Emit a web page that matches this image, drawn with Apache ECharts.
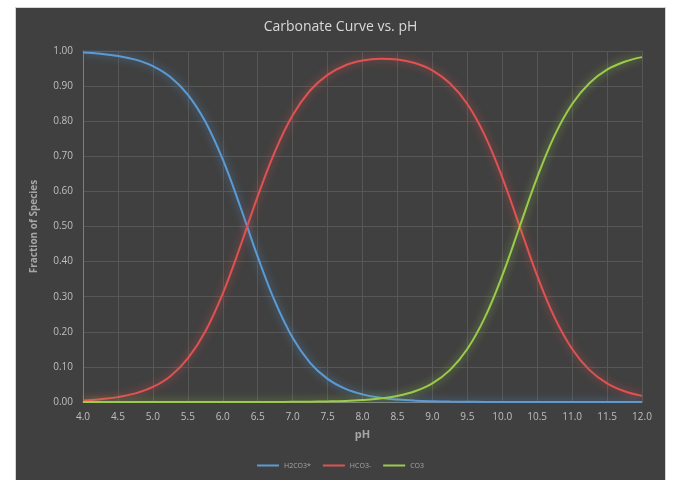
<!DOCTYPE html>
<html>
<head>
<meta charset="utf-8">
<script src="https://cdn.jsdelivr.net/npm/echarts@6/dist/echarts.min.js"></script>
<style>
html,body{margin:0;padding:0;background:#ffffff;width:683px;height:480px;overflow:hidden;}
#wrap{position:absolute;left:15px;top:7px;width:651px;height:473px;background:#404040;border:1px solid #d4d4d4;border-bottom:none;box-sizing:border-box;}
#chart{width:100%;height:100%;}
</style>
</head>
<body>
<div id="wrap"><div id="chart"></div></div>
<script>
const pH = [4.0,4.25,4.5,4.75,5.0,5.25,5.5,5.75,6.0,6.25,6.5,6.75,7.0,7.25,7.5,7.75,8.0,8.25,8.5,8.75,9.0,9.25,9.5,9.75,10.0,10.25,10.5,10.75,11.0,11.25,11.5,11.75,12.0];
const h2co3 = [0.9955,0.992,0.986,0.9755,0.957,0.926,0.876,0.799,0.691,0.557,0.414,0.285,0.183,0.1117,0.066,0.0382,0.0218,0.0123,0.0069,0.0038,0.0021,0.0011,0.0006,0.0003,0.0002,0.0001,0,0,0,0,0,0,0];
const hco3 = [0.0045,0.0079,0.0139,0.0245,0.0428,0.0736,0.124,0.201,0.309,0.443,0.586,0.715,0.8167,0.8874,0.932,0.9588,0.9727,0.978,0.9758,0.9656,0.9448,0.908,0.849,0.7597,0.640,0.500,0.360,0.2403,0.151,0.0909,0.0532,0.0307,0.0175];
const co3 = [0,0,0,0,0,0,0,0,0,0,0.0001,0.0002,0.0005,0.0009,0.0017,0.003,0.0055,0.0098,0.0173,0.0305,0.0531,0.0908,0.151,0.2403,0.360,0.500,0.640,0.7597,0.849,0.909,0.9468,0.9693,0.9825];
const seriesNames = ['H2CO3*','HCO3-','CO3'];
const colors = ['#5b9bd5','#e05252','#9bcb4a'];
const glows = ['rgba(91,155,213,0.8)','rgba(224,82,82,0.8)','rgba(155,203,74,0.8)'];

const chart = echarts.init(document.getElementById('chart'));
const font = 'Open Sans, Liberation Sans, sans-serif';
const dataSets = [h2co3, hco3, co3];
chart.setOption({
  backgroundColor: 'transparent',
  animation: false,
  title: {
    text: 'Carbonate Curve vs. pH',
    left: 'center', top: 7,
    textStyle: {color: '#d9d9d9', fontSize: 14, fontWeight: 'normal', fontFamily: font}
  },
  legend: {
    bottom: 6, left: 'center',
    data: seriesNames,
    icon: 'rect', itemWidth: 22, itemHeight: 2, itemGap: 12,
    textStyle: {color: '#a6a6a6', fontSize: 7, fontFamily: font}
  },
  grid: {left: 67, right: 23, top: 43, bottom: 78},
  xAxis: {
    type: 'value', min: 4, max: 12, interval: 0.5,
    name: 'pH', nameLocation: 'middle', nameGap: 27,
    nameTextStyle: {color: '#a6a6a6', fontSize: 11, fontWeight: 'bold', fontFamily: font},
    axisLine: {show: true, lineStyle: {color: '#7f7f7f'}},
    axisTick: {show: false},
    axisLabel: {color: '#bfbfbf', fontSize: 10, margin: 10, fontFamily: font, formatter: v => v.toFixed(1)},
    splitLine: {show: true, lineStyle: {color: '#575757'}}
  },
  yAxis: {
    type: 'value', min: 0, max: 1, interval: 0.1,
    name: 'Fraction of Species', nameLocation: 'middle', nameGap: 44,
    nameTextStyle: {color: '#a6a6a6', fontSize: 10, fontWeight: 'bold', fontFamily: font},
    axisLine: {show: true, lineStyle: {color: '#7f7f7f'}},
    axisTick: {show: false},
    axisLabel: {color: '#bfbfbf', fontSize: 10, margin: 10, fontFamily: font, formatter: v => v.toFixed(2)},
    splitLine: {show: true, lineStyle: {color: '#575757'}}
  },
  series: seriesNames.map((n, i) => ({
    name: n, type: 'line', smooth: 0.4, showSymbol: false, symbol: 'none',
    data: pH.map((x, j) => [x, dataSets[i][j]]),
    lineStyle: {color: colors[i], width: 2, shadowBlur: 8, shadowColor: glows[i]},
    itemStyle: {color: colors[i]}
  }))
});
</script>
</body>
</html>
